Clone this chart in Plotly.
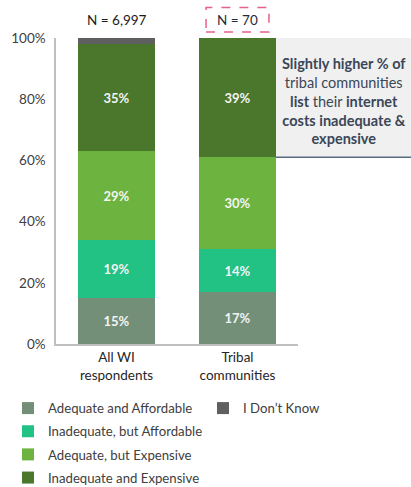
import plotly.graph_objects as go

# Survey groups and their sample sizes
groups = ["All WI<br>respondents", "Tribal<br>communities"]
sample_sizes = ["N = 6,997", "N = 70"]

# Response categories (bottom to top of each stack) and colours
categories = [
    "Adequate and Affordable",
    "Inadequate, but Affordable",
    "Adequate, but Expensive",
    "Inadequate and Expensive",
    "I Don\u2019t Know",
]
colors = ["#738f78", "#22c184", "#6db33f", "#4a772c", "#5f5f5f"]

# Share of respondents (%) per category, one list per category: [All WI, Tribal]
adequate_affordable = [15, 17]
inadequate_affordable = [19, 14]
adequate_expensive = [29, 30]
inadequate_expensive = [35, 39]
dont_know = [2, 0]

series = [adequate_affordable, inadequate_affordable, adequate_expensive,
          inadequate_expensive, dont_know]

FONT = "Lato, Carlito, Calibri, sans-serif"
BAR_WIDTH = 0.63

fig = go.Figure()
for i, (name, vals, col) in enumerate(zip(categories, series, colors)):
    show_text = name != "I Don\u2019t Know"
    fig.add_trace(go.Bar(
        x=groups,
        y=vals,
        name=name,
        legendgroup=f"g{i}",
        marker=dict(color=col, line=dict(width=0)),
        width=BAR_WIDTH,
        text=[f"{v}%" for v in vals] if show_text else None,
        textposition="inside" if show_text else "none",
        insidetextanchor="middle",
        textangle=0,
        constraintext="none",
        textfont=dict(family=FONT, size=13, color="#f4f4f4", weight="bold"),
        hoverinfo="skip",
        legend="legend2" if name == "I Don\u2019t Know" else "legend",
    ))

# Paper coordinates of the tribal bar's right edge and of the top of its
# "Adequate, but Expensive" segment (y axis spans 0-100 %)
x_lo, x_hi = -0.5, 1.5
bar2_right = (1 + BAR_WIDTH / 2 - x_lo) / (x_hi - x_lo)
bar2_center = (1 - x_lo) / (x_hi - x_lo)
bar1_center = (0 - x_lo) / (x_hi - x_lo)
box_bottom = (adequate_affordable[1] + inadequate_affordable[1] + adequate_expensive[1]) / 100
box_right = 1.47

shapes = [
    # call-out panel next to the tribal bar
    dict(type="rect", xref="paper", yref="paper",
         x0=bar2_right, x1=box_right, y0=box_bottom, y1=1.0,
         fillcolor="#f0f0f0", line=dict(width=0), layer="below"),
    dict(type="line", xref="paper", yref="paper",
         x0=bar2_right, x1=box_right, y0=box_bottom, y1=box_bottom,
         line=dict(color="#5a6a80", width=1.5)),
    # dashed highlight round the tribal sample size
    dict(type="rect", xref="paper", yref="paper",
         x0=bar2_center - 0.13, x1=bar2_center + 0.13, y0=1.02, y1=1.10,
         line=dict(color="#e8608c", width=1.5, dash="dash")),
]

annotations = [
    dict(x=bar1_center, y=1.06, xref="paper", yref="paper", text=sample_sizes[0],
         xanchor="center", yanchor="middle", showarrow=False,
         font=dict(family=FONT, size=13.5, color="#1a1a1a")),
    dict(x=bar2_center, y=1.06, xref="paper", yref="paper", text=sample_sizes[1],
         xanchor="center", yanchor="middle", showarrow=False,
         font=dict(family=FONT, size=13.5, color="#1f2a3a")),
    dict(x=(bar2_right + box_right) / 2, y=0.795, xref="paper", yref="paper",
         xanchor="center", yanchor="middle",
         text=("<b>Slightly higher % of</b><br>tribal communities<br>"
               "<b>list</b> their <b>internet</b><br><b>costs inadequate &</b><br>"
               "<b>expensive</b>"),
         showarrow=False, align="center",
         font=dict(family=FONT, size=14.5, color="#3b4757")),
]

legend_common = dict(
    xref="container", yref="container", xanchor="left", yanchor="top",
    orientation="v", traceorder="grouped", tracegroupgap=3,
    font=dict(family=FONT, size=13.2, color="#404040"),
    itemclick=False, itemdoubleclick=False,
    bgcolor="rgba(0,0,0,0)", borderwidth=0,
)

fig.update_layout(
    width=411, height=487,
    margin=dict(l=56, r=113, t=38, b=143, pad=0, autoexpand=False),
    barmode="stack",
    plot_bgcolor="white", paper_bgcolor="white",
    font=dict(family=FONT, size=12, color="#404040"),
    shapes=shapes,
    annotations=annotations,
    legend=dict(x=8 / 411, y=1 - 393 / 487, **legend_common),
    legend2=dict(x=203 / 411, y=1 - 393 / 487, **legend_common),
    showlegend=True,
)

fig.update_xaxes(
    range=[x_lo, x_hi], showgrid=False, showline=True,
    linecolor="#bfbfbf", linewidth=1.5, ticks="",
    tickfont=dict(family=FONT, size=13.5, color="#262626"),
    fixedrange=True,
)
fig.update_yaxes(
    range=[0, 100], dtick=20, ticksuffix="%", showgrid=False,
    showline=True, linecolor="#bfbfbf", linewidth=1.5, ticks="",
    ticklabelstandoff=6, zeroline=False,
    tickfont=dict(family=FONT, size=13.5, color="#404040"),
    fixedrange=True,
)

fig.write_html("out.html", config={"displayModeBar": False})
